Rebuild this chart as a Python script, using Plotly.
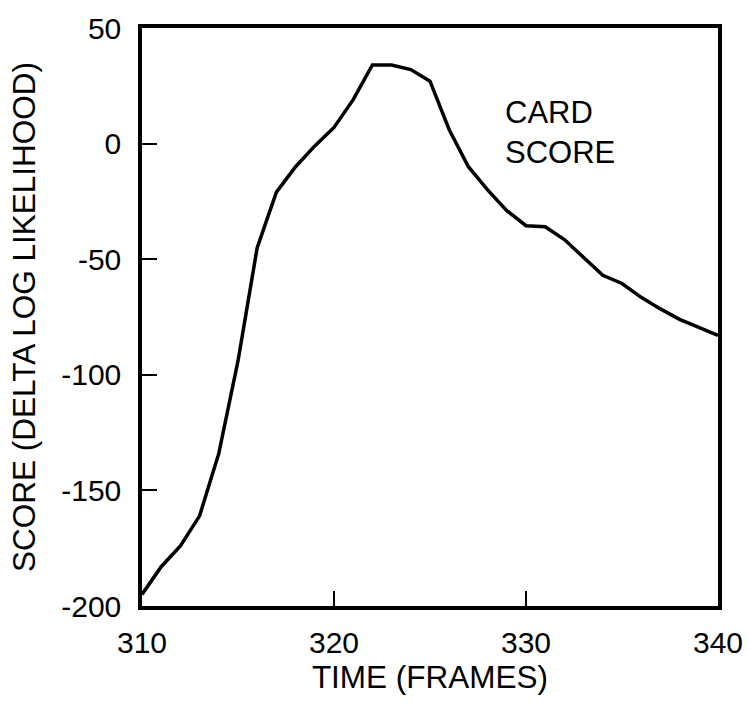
import plotly.graph_objects as go

# Card score over time (frames 310-340)
frames = list(range(310, 341))
scores = [-195, -183, -174, -161, -134, -94, -45, -21, -10, -1,
          7, 19, 34, 34, 32, 27, 6, -10, -20, -29,
          -35.5, -36, -41.5, -49.5, -57, -60.5, -66.5, -71.5, -76, -79.5,
          -83]

x_ticks = [310, 320, 330, 340]
y_ticks = [50, 0, -50, -100, -150, -200]

FONT = "Liberation Sans, Arial, Helvetica, sans-serif"

fig = go.Figure()
fig.add_trace(go.Scatter(
    x=frames, y=scores, mode="lines",
    line=dict(color="black", width=3.5),
    showlegend=False, hoverinfo="skip",
))

fig.add_annotation(
    x=328.8, y=5, xref="x", yref="y",
    text="CARD<br>SCORE", showarrow=False,
    xanchor="left", yanchor="middle", align="left",
    font=dict(family=FONT, size=31, color="black"),
)

axis_common = dict(
    showline=True, linecolor="black", linewidth=3.5, mirror=True,
    ticks="inside", ticklen=15, tickwidth=2, tickcolor="black",
    showgrid=False, zeroline=False,
    tickfont=dict(family=FONT, size=30, color="black"),
)

fig.update_xaxes(
    range=[310, 340], tickmode="array", tickvals=x_ticks,
    ticktext=[str(v) for v in x_ticks],
    ticklabelstandoff=7,
    title=dict(text="TIME (FRAMES)", font=dict(family=FONT, size=31.5, color="black"), standoff=8),
    **axis_common,
)
fig.update_yaxes(
    range=[-200, 50], tickmode="array", tickvals=y_ticks,
    ticktext=[str(v) for v in y_ticks],
    ticklabelstandoff=11,
    title=dict(text="SCORE (DELTA LOG LIKELIHOOD)", font=dict(family=FONT, size=31.5, color="black"), standoff=17),
    **axis_common,
)

fig.update_layout(
    template="none",
    width=749, height=705,
    margin=dict(l=142, r=31, t=28, b=99, autoexpand=False),
    paper_bgcolor="white", plot_bgcolor="white",
    font=dict(family=FONT, color="black"),
)

fig.write_html("out.html")
